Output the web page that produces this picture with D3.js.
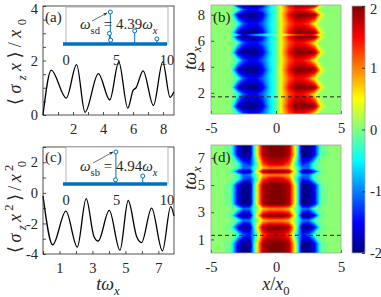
<!DOCTYPE html>
<meta charset="utf-8">
<head>
<style>
body { margin: 0; background: #fff; }
svg, text { font-family: "Liberation Serif", "DejaVu Serif", serif; fill: #262626; }
.tick text { font-size: 14.5px; }
.tick line { stroke: #262626; stroke-width: 0.8px; }
.frame { fill: none; stroke: #262626; stroke-width: 0.8px; }
.hframe { fill: none; stroke: #a6a6a6; stroke-width: 0.8px; }
</style>
</head>
<body>
<svg width="381" height="297"></svg>
<script src="https://d3js.org/d3.v7.min.js"></script>
<script>

// ---- panel (a): <sigma_z x>/x0 vs t w_x
var aT = [0, 0.55, 1.55, 2.24, 2.8, 3.69, 4.45, 5.05, 5.65, 6.0, 6.2, 6.67, 7.36, 7.98, 8.47, 8.73];
var aV = [0, 1.65, 0.62, 1.85, 0.1, 1.52, 0.55, 1.95, 0.25, 0.9, 1.0, 1.62, 0.35, 1.95, 0.65, 0.85];
var aXTicks = [2, 4, 6, 8];
var aYTicks = [0, 2, 4];

// inset (a) spectrum
var specAFreq = [4.39, 4.3, 4.42, 6.8, 9.0];
var specAAmp = [1, 0.33, 0.12, 0.41, 0.16];

// ---- panel (c): <sigma_z x^2>/x0^2
var cT = [0, 0.59, 1.39, 2.08, 2.62, 3.09, 3.35, 4.02, 4.67, 5.17, 5.68, 5.98, 6.59, 7.25, 7.75, 7.95];
var cV = [-0.2, -3.4, -1.2, -3.55, -0.38, -2.85, -3.15, -1.15, -3.75, -0.5, -2.85, -3.25, -1.0, -3.8, -0.9, -1.5];
var cXTicks = [1, 3, 5, 7];
var cYTicks = [-4, -2, 0, 2];

// inset (c) spectrum
var specCFreq = [4.94, 4.9, 7.6];
var specCAmp = [1, 0.13, 0.25];
var insetTicks = [0, 5, 10];

// ---- heat maps: x grid and row profiles
var gridX = [-5, -4.5, -4, -3.5, -3, -2.5, -2, -1.5, -1, -0.5, 0, 0.5, 1, 1.5, 2, 2.5, 3, 3.5, 4, 4.5, 5];

var bLobe   = [0, 0, 0, 0, -1.6, -2.6, -2.7, -2.5, -1.6, -0.7, -0.2, 0.7, 1.5, 2.2, 2.6, 2.6, 1.9, 0.4, 0, 0, 0];
var bNeck   = [0, 0, 0, 0, -0.2, -1.2, -1.5, -1.5, -1.1, -0.6, -0.2, 0.6, 1.2, 1.5, 1.5, 1.2, 0.4, 0, 0, 0, 0];
var bStreak = [0, 0, 0, 0, -0.6, -1.7, -1.2, -0.8, -0.6, -0.4, -0.1, 0.4, 0.6, 0.9, 1.2, 1.5, 0.9, 0.1, 0, 0, 0];
var bRowT    = [0.37, 0.95, 1.9, 2.4, 3.1, 3.75, 4.5, 5.1, 5.85, 6.3, 6.45, 6.6, 7.3, 8.0, 8.4, 8.75];
var bRowKind = ["N", "L", "N", "L", "N", "L", "N", "L", "N", "L", "S", "L", "N", "L", "N", "L"];
var bYTicks = [2, 4, 6, 8];
var bDash = 1.69;

var dLobe   = [0, 0, 0, -0.1, -1.5, -2.6, -2.2, 0.3, 1.8, 2.6, 2.8, 2.6, 1.8, 0.3, -2.2, -2.6, -1.5, -0.1, 0, 0, 0];
var dNeck   = [0, 0, 0, 0, -0.2, -1.2, -1.4, -0.3, 1.2, 1.6, 1.7, 1.6, 1.2, -0.3, -1.4, -1.2, -0.2, 0, 0, 0, 0];
var dStreak = [0, 0, 0, 0, -0.2, -1.1, -1.0, 0.0, 0.7, 0.9, 0.9, 0.9, 0.7, 0.0, -1.0, -1.1, -0.2, 0, 0, 0, 0];
var dRowT    = [0, 0.7, 1.35, 1.9, 2.4, 2.75, 3.25, 3.6, 4.3, 5.0, 5.45, 5.75, 6.0, 6.25, 6.55, 7.25, 7.95];
var dRowKind = ["L", "L", "N", "L", "S", "L", "S", "L", "L", "L", "N", "S", "L", "S", "N", "L", "L"];
var dYTicks = [1, 3, 5, 7];
var dDash = 1.3;

var hXTicks = [-5, 0, 5];
var cbTicks = [-2, -1, 0, 1, 2];

var svg = d3.select("svg");
var blue = "#0072bd";
var serif = "'Liberation Serif', 'DejaVu Serif', serif";

var jet = d3.scaleLinear()
    .domain([-2, -1.5, -0.5, 0.5, 1.5, 2])
    .range(["#000080", "#0000ff", "#00ffff", "#ffff00", "#ff0000", "#800000"])
    .clamp(true);

var defs = svg.append("defs");
defs.append("marker")
    .attr("id", "arrow").attr("viewBox", "0 0 10 10")
    .attr("refX", 9).attr("refY", 5)
    .attr("markerWidth", 6).attr("markerHeight", 6)
    .attr("orient", "auto")
  .append("path").attr("d", "M0,1L10,5L0,9L3,5Z").attr("fill", "#333");

// rich text: parts = [text, style] with i = italic, s = sub, p = sup
function rich(sel, parts, size) {
  var shift = 0;
  parts.forEach(function(p) {
    var st = p[1] || "";
    var target = st.indexOf("s") >= 0 ? 0.3 : st.indexOf("p") >= 0 ? -0.42 : 0;
    var ts = sel.append("tspan").text(p[0])
        .attr("dy", ((target - shift) * size) + "px")
        .style("font-size", (target ? size * 0.7 : size) + "px")
        .style("font-style", st.indexOf("i") >= 0 ? "italic" : "normal");
    if (p[2]) ts.attr("dx", p[2] + "px");
    shift = target;
  });
}

function fmt(d) { return String(d); }

function lineAxes(g, x, y, xt, yt, yAll) {
  var xa = d3.axisBottom(x).tickValues(d3.range(Math.ceil(x.domain()[0]), x.domain()[1] + 0.001, 1))
      .tickFormat(function(d) { return xt.indexOf(d) >= 0 ? fmt(d) : ""; })
      .tickSizeInner(-3).tickSizeOuter(0).tickPadding(9);
  g.append("g").attr("transform", "translate(0," + y.range()[0] + ")").call(xa)
    .call(function(s) { s.select(".domain").remove(); });
  var ya = d3.axisLeft(y).tickValues(yAll)
      .tickFormat(function(d) { return yt.indexOf(d) >= 0 ? fmt(d) : ""; })
      .tickSizeInner(-3).tickSizeOuter(0).tickPadding(5);
  g.append("g").attr("transform", "translate(" + x.range()[0] + ",0)").call(ya)
    .call(function(s) {
      s.select(".domain").remove();
      // keep the top label inside the picture
      s.selectAll(".tick text").filter(function(d) { return d === y.domain()[1]; }).attr("dy", "0.5em");
    });
  g.append("rect").attr("class", "frame")
    .attr("x", x.range()[0]).attr("y", y.range()[1])
    .attr("width", x.range()[1] - x.range()[0]).attr("height", y.range()[0] - y.range()[1]);
}

function inset(g, x0, x1, yTop, yBase, freq, amp, label, arrow, textX, textY) {
  var ix = d3.scaleLinear().domain([0, 10]).range([x0, x1]);
  var iy = d3.scaleLinear().domain([0, 1]).range([yBase, yTop + 5]);
  g.append("rect").attr("x", x0).attr("y", yTop).attr("width", x1 - x0 + 1).attr("height", yBase - yTop)
    .attr("fill", "#fff").attr("stroke", "#a6a6a6").attr("stroke-width", 0.8);
  g.append("line").attr("x1", ix(-0.3)).attr("x2", ix(10)).attr("y1", yBase).attr("y2", yBase)
    .attr("stroke", blue).attr("stroke-width", 3.5);
  var st = g.selectAll(".stem").data(freq).join("g").attr("class", "stem");
  st.append("line")
    .attr("x1", function(d) { return ix(d); }).attr("x2", function(d) { return ix(d); })
    .attr("y1", yBase).attr("y2", function(d, i) { return iy(amp[i]); })
    .attr("stroke", blue).attr("stroke-width", 1);
  st.append("circle")
    .attr("cx", function(d) { return ix(d); }).attr("cy", function(d, i) { return iy(amp[i]); })
    .attr("r", 2).attr("fill", "#fff").attr("stroke", blue).attr("stroke-width", 1);
  g.selectAll(".itick").data(insetTicks).join("text").attr("class", "itick")
    .attr("x", function(d) { return ix(d); }).attr("y", yBase + 21)
    .attr("text-anchor", "middle").style("font-size", "14.5px").text(fmt);
  var t = g.append("text").attr("x", textX).attr("y", textY);
  rich(t, label, 15);
  g.append("line").attr("x1", arrow[0]).attr("y1", arrow[1])
    .attr("x2", arrow[2]).attr("y2", arrow[3])
    .attr("stroke", "#333").attr("stroke-width", 0.7).attr("marker-end", "url(#arrow)");
}

var line = function(x, y) {
  return d3.line().x(function(d) { return x(d[0]); }).y(function(d) { return y(d[1]); })
    .curve(d3.curveMonotoneX);
};

// ---------- (a)
var xa = d3.scaleLinear().domain([0, 8.73]).range([43, 174]);
var ya = d3.scaleLinear().domain([0, 4]).range([115, 6]);
var ga = svg.append("g");
ga.append("path").datum(d3.zip(aT, aV)).attr("d", line(xa, ya))
  .attr("fill", "none").attr("stroke", "#000").attr("stroke-width", 1.3);
lineAxes(ga, xa, ya, aXTicks, aYTicks, d3.range(0, 4.01, 0.5));
inset(ga, 66, 167, 7, 44, specAFreq, specAAmp,
  [["ω", "i"], ["sd", "s"], [" = 4.39"], ["ω", "i"], ["x", "si"]], [92, 21, 107, 13], 80, 29);
ga.append("text").attr("x", 45).attr("y", 22).style("font-size", "15px").text("(a)");
var la = ga.append("text").attr("transform", "translate(21,62) rotate(-90)").attr("text-anchor", "middle")
  .attr("textLength", 86).attr("lengthAdjust", "spacing");
rich(la, [["⟨"], ["σ", "i"], ["z", "si"], ["x", "i"], ["⟩/"], ["x", "i"], ["0", "s"]], 18);

// ---------- (c)
var xc = d3.scaleLinear().domain([0, 7.95]).range([43, 174]);
var yc = d3.scaleLinear().domain([-4, 3]).range([254, 147]);
var gc = svg.append("g");
gc.append("path").datum(d3.zip(cT, cV)).attr("d", line(xc, yc))
  .attr("fill", "none").attr("stroke", "#000").attr("stroke-width", 1.3);
lineAxes(gc, xc, yc, cXTicks, cYTicks, d3.range(-4, 3.01, 1));
inset(gc, 66, 167, 147, 184, specCFreq, specCAmp,
  [["ω", "i"], ["sb", "s"], [" = 4.94"], ["ω", "i"], ["x", "si"]], [93, 163, 113, 152], 80, 171);
gc.append("text").attr("x", 45).attr("y", 162).style("font-size", "15px").text("(c)");
var lc = gc.append("text").attr("transform", "translate(21,207) rotate(-90)").attr("text-anchor", "middle")
  .attr("textLength", 92).attr("lengthAdjust", "spacing");
rich(lc, [["⟨"], ["σ", "i"], ["z", "si"], ["x", "i"], ["2", "p"], ["⟩/"], ["x", "i"], ["2", "p"], ["0", "s", -6]], 18);
var tl = gc.append("text").attr("x", 108).attr("y", 290).attr("text-anchor", "middle");
rich(tl, [["t", "i"], ["ω", "i"], ["x", "si"]], 18);

// ---------- heat maps
function heat(id, kinds, profiles, rowT, x, y, yTicks, dash) {
  var g = svg.append("g");
  g.append("clipPath").attr("id", "clip" + id).append("rect")
    .attr("x", x.range()[0]).attr("y", y.range()[1])
    .attr("width", x.range()[1] - x.range()[0]).attr("height", y.range()[0] - y.range()[1]);
  var n = gridX.length, m = rowT.length, values = [];
  kinds.forEach(function(k) {
    profiles[k].forEach(function(v) { values.push(Math.max(-2, Math.min(2, v))); });
  });
  var gx = d3.scaleLinear().domain([0.5, n - 0.5]).range([gridX[0], gridX[n - 1]]).clamp(true);
  var gy = d3.scaleLinear().domain(rowT.map(function(r, i) { return i + 0.5; })).range(rowT).clamp(true);
  var proj = d3.geoTransform({ point: function(px, py) {
    this.stream.point(x(gx(px)), y(gy(py)));
  } });
  var path = d3.geoPath(proj);
  var levels = d3.range(-2, 2.0001, 0.1);
  var cs = d3.contours().size([n, m]).thresholds(levels)(values);
  var hg = g.append("g").attr("clip-path", "url(#clip" + id + ")");
  hg.append("rect").attr("x", x.range()[0]).attr("y", y.range()[1])
    .attr("width", x.range()[1] - x.range()[0]).attr("height", y.range()[0] - y.range()[1])
    .attr("fill", jet(0));
  hg.selectAll("path").data(cs).join("path").attr("d", path)
    .attr("fill", function(d) { return jet(d.value + 0.05); })
    .attr("stroke", function(d) { return jet(d.value + 0.05); }).attr("stroke-width", 0.3);
  hg.append("line").attr("x1", x.range()[0]).attr("x2", x.range()[1])
    .attr("y1", y(dash)).attr("y2", y(dash))
    .attr("stroke", "#222").attr("stroke-width", 1).attr("stroke-dasharray", "4,3");
  var xa = d3.axisBottom(x).tickValues(hXTicks).tickFormat(fmt)
      .tickSizeInner(-3).tickSizeOuter(0).tickPadding(9);
  g.append("g").attr("transform", "translate(0," + y.range()[0] + ")").call(xa)
    .call(function(s) { s.select(".domain").remove(); s.selectAll(".tick line").attr("stroke", "#a6a6a6"); });
  var yaxis = d3.axisLeft(y).tickValues(yTicks).tickFormat(fmt)
      .tickSizeInner(-3).tickSizeOuter(0).tickPadding(6);
  g.append("g").attr("transform", "translate(" + x.range()[0] + ",0)").call(yaxis)
    .call(function(s) { s.select(".domain").remove(); s.selectAll(".tick line").attr("stroke", "#a6a6a6"); });
  g.append("rect").attr("class", "hframe")
    .attr("x", x.range()[0]).attr("y", y.range()[1])
    .attr("width", x.range()[1] - x.range()[0]).attr("height", y.range()[0] - y.range()[1]);
  return g;
}

var xh = d3.scaleLinear().domain([-5, 5]).range([211, 341]);
var yb = d3.scaleLinear().domain([0.37, 8.75]).range([114, 5]);
var yd = d3.scaleLinear().domain([0, 7.95]).range([253, 145]);

var gb = heat("b", bRowKind, { L: bLobe, N: bNeck, S: bStreak }, bRowT, xh, yb, bYTicks, bDash);
gb.append("text").attr("x", 213).attr("y", 22).style("font-size", "15px").text("(b)");
var lb = gb.append("text").attr("transform", "translate(196,58) rotate(-90)").attr("text-anchor", "middle");
rich(lb, [["t", "i"], ["ω", "i"], ["x", "si"]], 18);

var gd = heat("d", dRowKind, { L: dLobe, N: dNeck, S: dStreak }, dRowT, xh, yd, dYTicks, dDash);
gd.append("text").attr("x", 213).attr("y", 162).style("font-size", "15px").text("(d)");
var ld = gd.append("text").attr("transform", "translate(196,178) rotate(-90)").attr("text-anchor", "middle");
rich(ld, [["t", "i"], ["ω", "i"], ["x", "si"]], 18);
var xl = gd.append("text").attr("x", 276).attr("y", 290).attr("text-anchor", "middle");
rich(xl, [["x", "i"], ["/"], ["x", "i"], ["0", "s"]], 18);

// ---------- colour bar
var cb = d3.scaleLinear().domain([-2, 2]).range([253, 6]);
var grad = defs.append("linearGradient").attr("id", "jetgrad")
    .attr("x1", 0).attr("y1", 1).attr("x2", 0).attr("y2", 0);
grad.selectAll("stop").data(jet.domain()).join("stop")
  .attr("offset", function(d) { return (d + 2) / 4; })
  .attr("stop-color", function(d) { return jet(d); });
svg.append("rect").attr("x", 352).attr("y", cb(2)).attr("width", 13).attr("height", cb(-2) - cb(2))
  .attr("fill", "url(#jetgrad)").attr("stroke", "#a6a6a6").attr("stroke-width", 0.8);
var cba = d3.axisRight(cb).tickValues(cbTicks).tickFormat(fmt)
    .tickSizeInner(-3).tickSizeOuter(0).tickPadding(5);
svg.append("g").attr("transform", "translate(365,0)").call(cba)
  .call(function(s) {
    s.select(".domain").remove();
    s.selectAll(".tick text").filter(function(d) { return d === 2; }).attr("dy", "0.5em");
  });

// all text in the serif face, as in the original figure
svg.selectAll("text").attr("font-family", serif).style("font-family", serif);

</script>
</body>
